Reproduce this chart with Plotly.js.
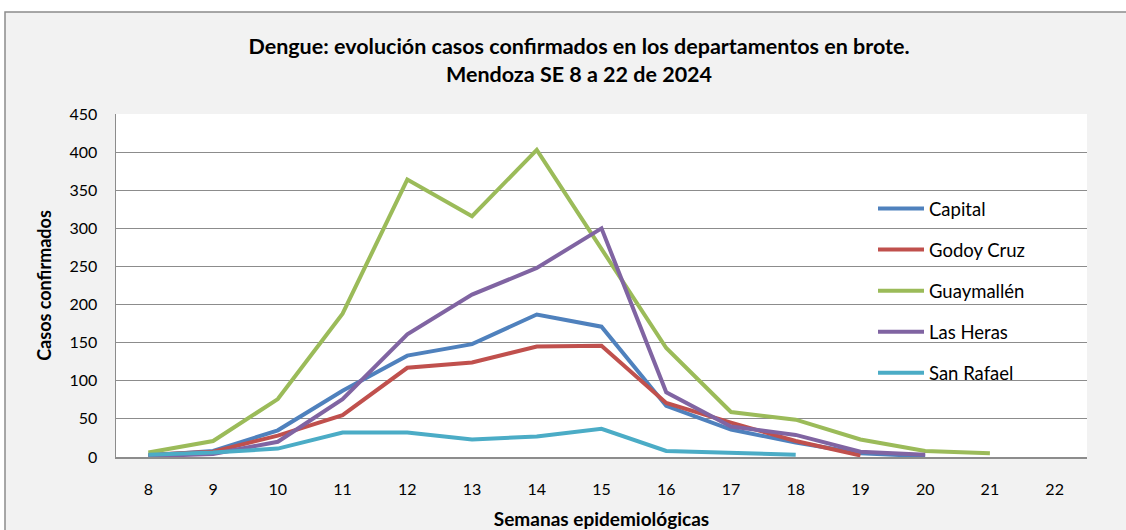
<!DOCTYPE html>
<html>
<head>
<meta charset="utf-8">
<script src="https://cdn.plot.ly/plotly-3.0.1.min.js"></script>
<style>html,body{margin:0;padding:0;background:#fff;}#chart{width:1126px;height:530px;}</style>
</head>
<body>
<div id="chart"></div>
<script>
const weeks = ['8','9','10','11','12','13','14','15','16','17','18','19','20','21','22'];
const capital    = [2, 8, 35, 87, 133, 148, 187, 171, 67, 36, 19, 5, 1];
const godoyCruz  = [3, 7, 28, 55, 117, 124, 145, 146, 71, 45, 21, 2];
const guaymallen = [6, 21, 76, 188, 364, 316, 403, 274, 143, 59, 49, 23, 8, 5];
const lasHeras   = [1, 4, 20, 76, 161, 213, 248, 300, 85, 40, 29, 7, 3];
const sanRafael  = [3, 6, 11, 32, 32, 23, 27, 37, 8, 5, 3];
const seriesNames = ['Capital', 'Godoy Cruz', 'Guaymallén', 'Las Heras', 'San Rafael'];
const yTicks = [0, 50, 100, 150, 200, 250, 300, 350, 400, 450];

const colors = ['#4F81BD', '#C0504D', '#9BBB59', '#8064A2', '#4BACC6'];
const allSeries = [capital, godoyCruz, guaymallen, lasHeras, sanRafael];

const FONT = 'Lato, "Liberation Sans", sans-serif';

const traces = allSeries.map((vals, i) => ({
  type: 'scatter',
  mode: 'lines',
  name: seriesNames[i],
  x: weeks.slice(0, vals.length),
  y: vals,
  line: {color: colors[i], width: 4},
  legendgroup: 'g' + i,
  hoverinfo: 'x+y+name'
}));

// pixel helpers for the frame
const L = 116, R = 1087, T = 114, B = 457;
const px = p => (p - L) / (R - L);
const py = p => (B - p) / (B - T);

const layout = {
  width: 1126,
  height: 530,
  margin: {l: L, r: 1126 - R, t: T, b: 530 - B},
  paper_bgcolor: '#ffffff',
  plot_bgcolor: '#ffffff',
  font: {family: FONT, size: 16, color: '#000'},
  title: {
    text: '<b>Dengue: evolución casos confirmados en los departamentos en brote.</b><br><b>Mendoza SE 8 a 22 de 2024</b>',
    font: {family: FONT, size: 21.5, color: '#000'},
    x: 579 / 1126, xanchor: 'center', xref: 'container',
    y: 1 - 54 / 530, yanchor: 'top', yref: 'container'
  },
  xaxis: {
    type: 'category',
    categoryorder: 'array',
    categoryarray: weeks,
    range: [-0.5, weeks.length - 0.5],
    showgrid: false,
    showline: true,
    linecolor: '#8c8c8c',
    linewidth: 1.5,
    ticks: '',
    tickfont: {family: FONT, size: 16, color: '#000'},
    ticklabelstandoff: 17,
    title: {text: '<b>Semanas epidemiológicas</b>', font: {family: FONT, size: 19, color: '#000'}, standoff: 16},
    zeroline: false,
    fixedrange: true
  },
  yaxis: {
    range: [0, 450],
    tickvals: yTicks,
    ticktext: yTicks.map(String),
    showgrid: true,
    gridcolor: '#8c8c8c',
    gridwidth: 1.2,
    showline: true,
    linecolor: '#8c8c8c',
    linewidth: 1.5,
    ticks: '',
    ticklabelstandoff: 14,
    tickfont: {family: FONT, size: 16, color: '#000'},
    title: {text: '<b>Casos confirmados</b>', font: {family: FONT, size: 18, color: '#000'}, standoff: 13},
    zeroline: false,
    fixedrange: true
  },
  legend: {
    x: px(873), xanchor: 'left',
    y: py(190), yanchor: 'top',
    bgcolor: 'rgba(0,0,0,0)',
    font: {family: FONT, size: 18.5, color: '#000'},
    tracegroupgap: 14,
    itemwidth: 46
  },
  shapes: [
    {type: 'rect', xref: 'paper', yref: 'paper', layer: 'below',
     x0: px(5), x1: px(1140), y0: py(545), y1: py(12),
     fillcolor: '#f2f2f2', line: {color: '#8c8c8c', width: 1.5}},
    {type: 'rect', xref: 'paper', yref: 'paper', layer: 'below',
     x0: 0, x1: 1, y0: 0, y1: 1,
     fillcolor: '#ffffff', line: {width: 0}}
  ],
  showlegend: true
};

Plotly.newPlot('chart', traces, layout, {displayModeBar: false, staticPlot: true});
</script>
</body>
</html>
